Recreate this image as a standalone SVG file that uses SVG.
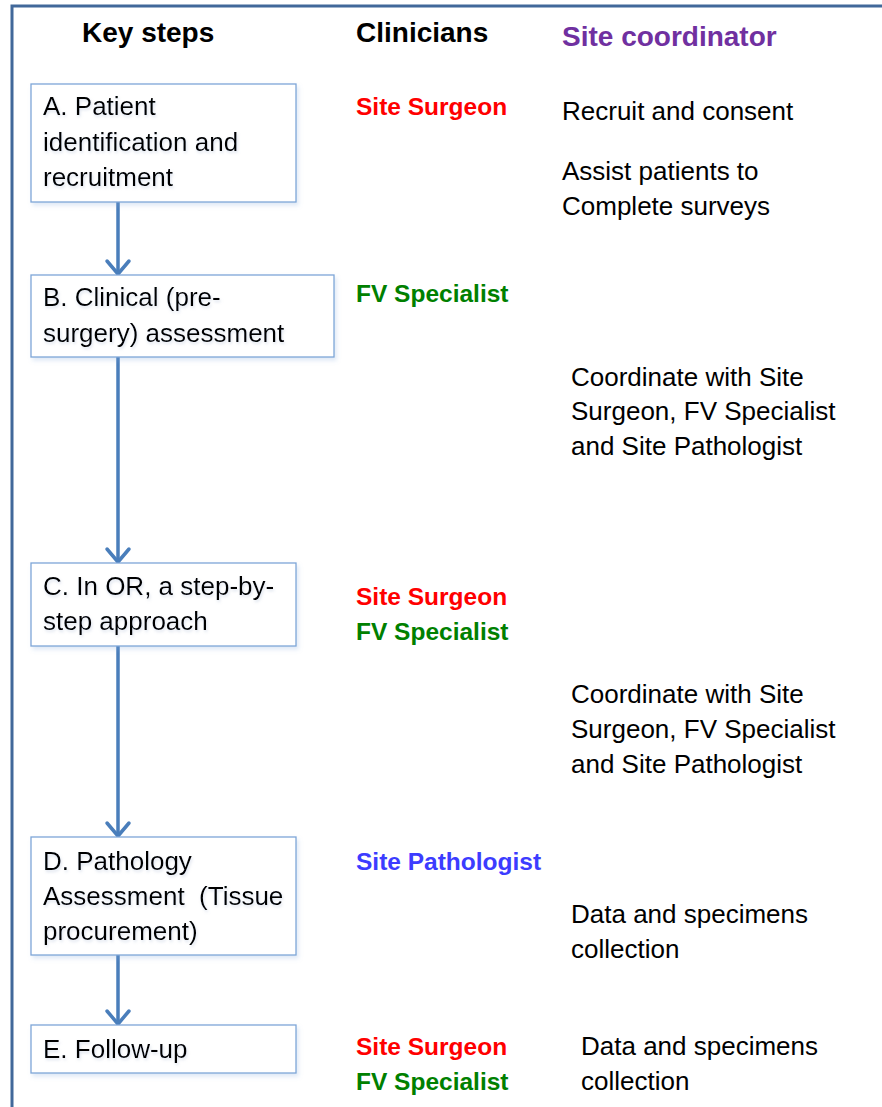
<svg xmlns="http://www.w3.org/2000/svg" width="882" height="1107" viewBox="0 0 882 1107">
<defs>
<style>
text{font-family:"Liberation Sans",Arial,sans-serif;font-size:26px;fill:#000}
.h{font-weight:bold;font-size:28px}
.b{font-weight:bold;font-size:24.5px}
.red{fill:#ff0000}
.grn{fill:#008000}
.blu{fill:#3c3cff}
.pur{fill:#7030a0}
.box{fill:#fff;stroke:#7ea6d8;stroke-width:1.3;filter:url(#sh)}
.bt{filter:url(#ts)}
.arr{stroke:#4a7ebb;stroke-width:3.5;fill:none}
</style>
<filter id="sh" x="-10%" y="-10%" width="120%" height="130%">
<feDropShadow dx="2" dy="3" stdDeviation="2" flood-color="#7ea6d8" flood-opacity="0.25"/>
</filter>
<filter id="ts" x="-10%" y="-30%" width="120%" height="160%">
<feDropShadow dx="1" dy="2" stdDeviation="1.5" flood-color="#9aaccc" flood-opacity="0.35"/>
</filter>
<marker id="ah" viewBox="0 0 30 30" refX="23" refY="15" markerWidth="30" markerHeight="30" markerUnits="userSpaceOnUse" orient="auto">
<path d="M10,4 L23,15 L10,26" fill="none" stroke="#4a7ebb" stroke-width="3.5" stroke-linecap="round" stroke-linejoin="round"/>
</marker>
</defs>
<rect width="882" height="1107" fill="#fff"/>
<path d="M12,1107 L12,6 L882,6" fill="none" stroke="#41689a" stroke-width="3"/>
<g id="headers">
<text class="h" x="82" y="42">Key steps</text>
<text class="h" x="356" y="42">Clinicians</text>
<text class="h pur" x="562" y="46">Site coordinator</text>
</g>
<g id="connectors">
<line class="arr" x1="118" y1="202" x2="118" y2="274" marker-end="url(#ah)"/>
<line class="arr" x1="118" y1="357" x2="118" y2="562" marker-end="url(#ah)"/>
<line class="arr" x1="118" y1="646" x2="118" y2="836" marker-end="url(#ah)"/>
<line class="arr" x1="118" y1="955" x2="118" y2="1024" marker-end="url(#ah)"/>
</g>
<g id="nodeA">
<rect class="box" x="31" y="84" width="265" height="118"/>
<g class="bt">
<text x="43" y="115">A. Patient</text>
<text x="43" y="151">identification and</text>
<text x="43" y="186">recruitment</text>
</g>
</g>
<g id="nodeB">
<rect class="box" x="31" y="275" width="303" height="82"/>
<g class="bt">
<text x="43" y="306">B. Clinical (pre-</text>
<text x="43" y="342">surgery) assessment</text>
</g>
</g>
<g id="nodeC">
<rect class="box" x="31" y="563" width="265" height="83"/>
<g class="bt">
<text x="43" y="595">C. In OR, a step-by-</text>
<text x="43" y="630">step approach</text>
</g>
</g>
<g id="nodeD">
<rect class="box" x="31" y="837" width="265" height="118"/>
<g class="bt">
<text x="43" y="870">D. Pathology</text>
<text x="43" y="905" xml:space="preserve">Assessment  (Tissue</text>
<text x="43" y="940">procurement)</text>
</g>
</g>
<g id="nodeE">
<rect class="box" x="31" y="1025" width="265" height="48"/>
<g class="bt">
<text x="43" y="1058">E. Follow-up</text>
</g>
</g>
<g id="clinicians">
<text class="b red" x="356" y="115">Site Surgeon</text>
<text class="b grn" x="356" y="302">FV Specialist</text>
<text class="b red" x="356" y="605">Site Surgeon</text>
<text class="b grn" x="356" y="640">FV Specialist</text>
<text class="b blu" x="356" y="870">Site Pathologist</text>
<text class="b red" x="356" y="1055">Site Surgeon</text>
<text class="b grn" x="356" y="1090">FV Specialist</text>
</g>
<g id="coordinator">
<text x="562" y="120">Recruit and consent</text>
<text x="562" y="180">Assist patients to</text>
<text x="562" y="215">Complete surveys</text>
<text x="571" y="386">Coordinate with Site</text>
<text x="571" y="420">Surgeon, FV Specialist</text>
<text x="571" y="455">and Site Pathologist</text>
<text x="571" y="703">Coordinate with Site</text>
<text x="571" y="738">Surgeon, FV Specialist</text>
<text x="571" y="773">and Site Pathologist</text>
<text x="571" y="923">Data and specimens</text>
<text x="571" y="958">collection</text>
<text x="581" y="1055">Data and specimens</text>
<text x="581" y="1090">collection</text>
</g>
</svg>
